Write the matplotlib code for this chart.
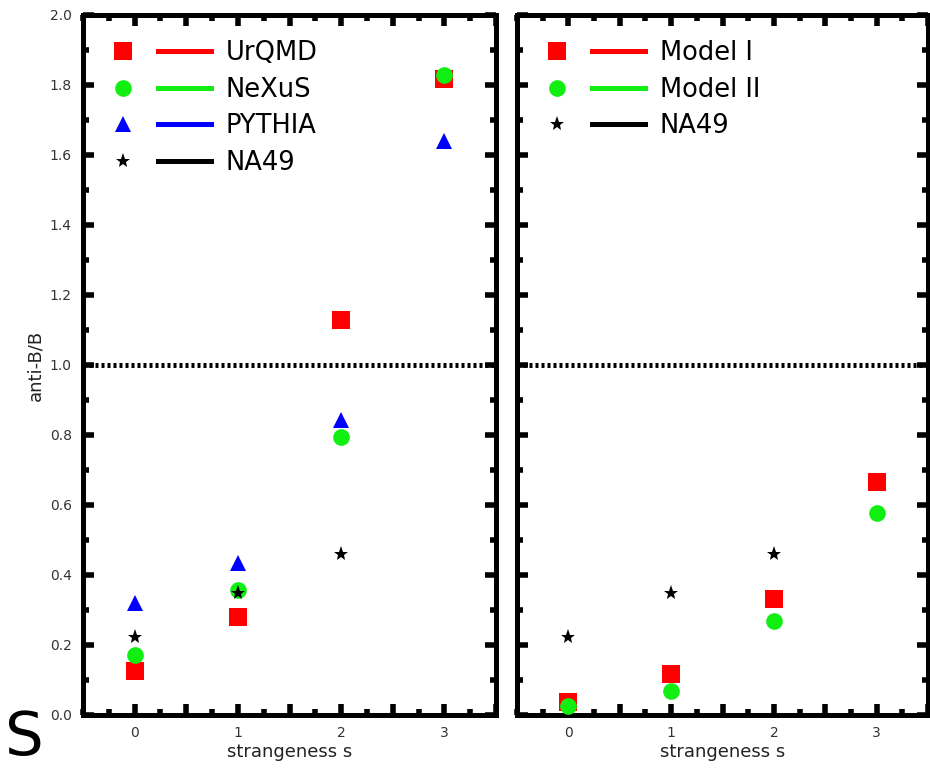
import numpy as np
import matplotlib
matplotlib.use("Agg")
import matplotlib.pyplot as plt
from matplotlib.lines import Line2D
from matplotlib.legend_handler import HandlerTuple
from matplotlib.ticker import MultipleLocator


# ------------------------------------
# Data
# ------------------------------------
strangeness = [0, 1, 2, 3]
urqmd = [0.125, 0.28, 1.13, 1.817]
nexus = [0.171, 0.357, 0.794, 1.83]
pythia = [0.32, 0.434, 0.843, 1.64]
na49_s = [0, 1, 2]
na49 = [0.223, 0.349, 0.46]
model1 = [0.037, 0.117, 0.331, 0.666]
model2 = [0.026, 0.069, 0.269, 0.577]

RED = "#ff0000"
GREEN = "#11ee11"
BLUE = "#0000ff"

left_series = [
    ("UrQMD", strangeness, urqmd, "s", RED, 13),
    ("NeXuS", strangeness, nexus, "o", GREEN, 12),
    ("PYTHIA", strangeness, pythia, "^", BLUE, 12),
    ("NA49", na49_s, na49, "*", "black", 11),
]
right_series = [
    ("Model I", strangeness, model1, "s", RED, 13),
    ("Model II", strangeness, model2, "o", GREEN, 12),
    ("NA49", na49_s, na49, "*", "black", 11),
]


fig = plt.figure(figsize=(9.3, 7.7), dpi=100)
ax1 = fig.add_axes([83 / 930, 55 / 770, 413 / 930, 700 / 770])
ax2 = fig.add_axes([517 / 930, 55 / 770, 411 / 930, 700 / 770])


def style_axis(ax, series):
    handles, labels = [], []
    for name, x, y, marker, color, ms in series:
        ax.plot(x, y, ls="none", marker=marker, color=color, ms=ms,
                markeredgewidth=0, zorder=3)
        mk = Line2D([], [], ls="none", marker=marker, color=color, ms=ms,
                    markeredgewidth=0)
        ln = Line2D([], [], color=color, lw=3.6)
        handles.append((mk, ln))
        labels.append(name)

    # dotted reference line at anti-B/B = 1
    ax.axhline(1.0, color="black", lw=3.6, ls=(0, (0.6, 0.6)), zorder=2)

    ax.set_xlim(-0.5, 3.5)
    ax.set_ylim(0, 2.0)
    ax.xaxis.set_minor_locator(MultipleLocator(0.25))
    ax.yaxis.set_major_locator(MultipleLocator(0.2))
    ax.yaxis.set_minor_locator(MultipleLocator(0.1))
    ax.set_xticks([0, 0.5, 1, 1.5, 2, 2.5, 3, 3.5])
    ax.set_xticklabels(["0", "", "1", "", "2", "", "3", ""])
    ax.tick_params(which="both", direction="in", top=True, right=True,
                   labelsize=10, colors="black", labelcolor="#333333")
    ax.tick_params(which="major", length=8, width=4, pad=8)
    ax.tick_params(which="minor", length=4, width=4)
    for sp in ax.spines.values():
        sp.set_linewidth(3.6)
    ax.set_xlabel("strangeness s", fontsize=13, color="#222222", labelpad=2)

    ax.legend(handles, labels, loc="upper left", bbox_to_anchor=(0.0, 0.983),
              frameon=False,
              handler_map={tuple: HandlerTuple(ndivide=None, pad=0.32)},
              fontsize=18.5, handlelength=4.5, handletextpad=0.56,
              labelspacing=0.42, borderaxespad=0.2, borderpad=0.3)


style_axis(ax1, left_series)
style_axis(ax2, right_series)

ax1.set_yticks(np.arange(0, 2.01, 0.2))
ax1.set_yticklabels([f"{v:.1f}" for v in np.arange(0, 2.01, 0.2)])
ax1.set_ylabel("anti-B/B", fontsize=13, color="#222222", labelpad=4)
ax2.tick_params(labelleft=False)

fig.text(0.005, 0.02, "S", fontsize=44, color="black")

plt.savefig("out.png", dpi=100)
